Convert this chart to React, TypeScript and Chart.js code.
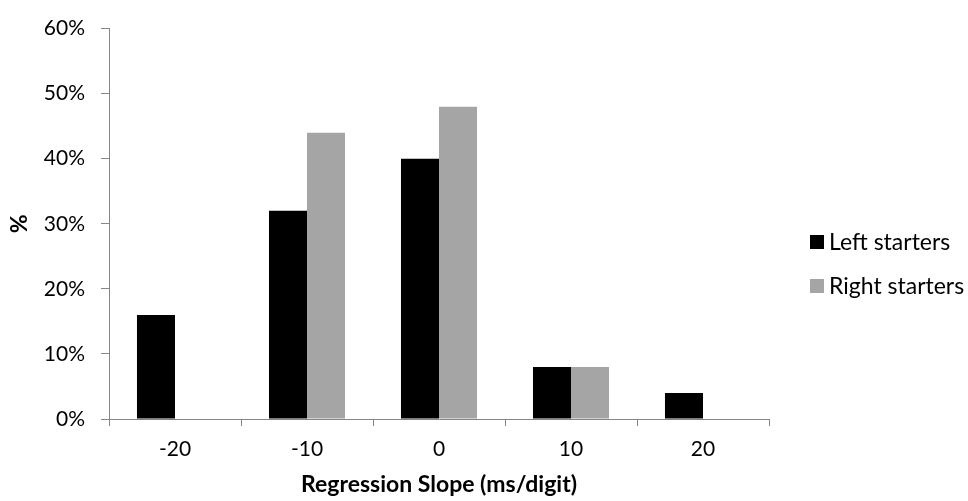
import React, { useEffect, useRef } from "react";
import { Chart, registerables } from "chart.js";

Chart.register(...registerables);

const categories = ["-20", "-10", "0", "10", "20"];
const leftStarters = [16, 32, 40, 8, 4];
const rightStarters = [0, 44, 48, 8, 0];
const seriesNames = ["Left starters", "Right starters"];
const seriesColors = ["#000000", "#a5a5a5"];
const yTicks = [0, 10, 20, 30, 40, 50, 60];
const xTitle = "Regression Slope (ms/digit)";
const yTitle = "%";

const FONT = "Lato";

const sideLegend = {
  id: "sideLegend",
  afterDraw(chart: any) {
    const ctx = chart.ctx as CanvasRenderingContext2D;
    const ys = [242, 286];
    ctx.save();
    chart.data.datasets.forEach((ds: any, i: number) => {
      const y = ys[i];
      ctx.fillStyle = ds.backgroundColor;
      ctx.fillRect(810, y - 7, 14, 14);
      ctx.fillStyle = "#000";
      ctx.font = `23px ${FONT}`;
      ctx.textBaseline = "middle";
      ctx.textAlign = "left";
      ctx.fillText(ds.label, 829, y + 1);
    });
    ctx.restore();
  },
};

export default function App() {
  const ref = useRef<HTMLCanvasElement>(null);
  useEffect(() => {
    if (!ref.current) return;
    const chart = new Chart(ref.current, {
      type: "bar",
      data: {
        labels: categories,
        datasets: [
          { label: seriesNames[0], data: leftStarters, backgroundColor: seriesColors[0], borderWidth: 0 },
          { label: seriesNames[1], data: rightStarters, backgroundColor: seriesColors[1], borderWidth: 0 },
        ],
      },
      options: {
        responsive: false,
        animation: false,
        layout: { padding: { top: 21, right: 199, left: 0, bottom: 0 } },
        datasets: { bar: { categoryPercentage: 0.576, barPercentage: 1 } },
        plugins: { legend: { display: false }, tooltip: { enabled: false } },
        scales: {
          x: {
            grid: { display: true, drawOnChartArea: false, drawTicks: true, tickLength: 7, color: "#868686", offset: true },
            border: { color: "#868686", width: 1 },
            ticks: { color: "#000", font: { family: FONT, size: 21 }, padding: 11 },
            title: { display: true, text: xTitle, color: "#000", font: { family: FONT, size: 23, weight: "bold" }, padding: { top: 0, bottom: 3 } },
            afterFit: (s: any) => { s.height = 82; },
          },
          y: {
            min: 0,
            max: 60,
            afterBuildTicks: (s: any) => { s.ticks = yTicks.map((v) => ({ value: v })); },
            grid: { display: true, drawOnChartArea: false, drawTicks: true, tickLength: 8, color: "#868686" },
            border: { color: "#868686", width: 1 },
            ticks: { color: "#000", font: { family: FONT, size: 21 }, padding: 16, callback: (v: any) => `${v}%` },
            title: { display: true, text: yTitle, color: "#000", font: { family: FONT, size: 23, weight: "bold" }, padding: { top: 6, bottom: 0 } },
            afterFit: (s: any) => { s.width = 109; },
          },
        },
      },
      plugins: [sideLegend],
    });
    return () => chart.destroy();
  }, []);
  return (
    <div style={{ position: "fixed", left: 0, top: 0, width: 968, height: 501, background: "#fff" }}>
      <canvas ref={ref} width={968} height={501} style={{ display: "block" }} />
    </div>
  );
}
